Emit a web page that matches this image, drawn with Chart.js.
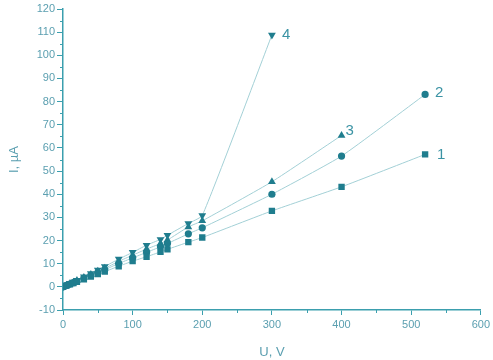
<!DOCTYPE html>
<html>
<head>
<meta charset="utf-8">
<script src="https://cdn.jsdelivr.net/npm/chart.js@4"></script>
<style>
  html, body { margin: 0; padding: 0; background: #fff; }
  #wrap { width: 493px; height: 360px; }
</style>
</head>
<body>
<div id="wrap"><canvas id="chart"></canvas></div>
<script>
// voltage, V
const voltage = [0, 5, 10, 15, 20, 30, 40, 50, 60, 80, 100, 120, 140, 150, 180, 200, 300, 400, 520];
// current, uA (curves 1..4)
const curve1 = [0, 0.55, 1.1, 1.6, 2.2, 3.3, 4.4, 5.5, 6.6, 8.9, 11.1, 13, 15.1, 16.2, 19.3, 21.3, 32.8, 43.2, 57.2];
const curve2 = [0, 0.6, 1.2, 1.8, 2.4, 3.7, 4.9, 6.2, 7.4, 10.1, 12.5, 14.9, 17.3, 18.7, 22.9, 25.5, 40, 56.5, 83.1];
const curve3 = [0, 0.65, 1.3, 2, 2.7, 4, 5.3, 6.7, 8, 11, 13.7, 16.3, 18.7, 20.2, 25.9, 28.5, 45.4, 65.4];
const curve4 = [0, 0.7, 1.4, 2.1, 2.9, 4.4, 5.8, 7.3, 8.8, 12, 14.9, 18, 20.5, 22.3, 27.4, 30.8, 108.8];
const curveLabels = ['1', '2', '3', '4'];

const yTicks = [-10, 0, 10, 20, 30, 40, 50, 60, 70, 80, 90, 100, 110, 120];
const xTicks = [0, 100, 200, 300, 400, 500, 600];

const markColor = '#1f7d8e';
const lineColor = '#a3d0d6';
const axisColor = '#3b9fae';
const textColor = '#5b9fb0';
const fontFamily = 'Arial, "Liberation Sans", sans-serif';

function pts(ys) {
    return ys.map((y, i) => ({ x: voltage[i], y: y }));
}

// short minor ticks halfway between the labelled ones
const minorTicks = {
    id: 'minorTicks',
    afterDraw(chart) {
        const ctx = chart.ctx;
        const xs = chart.scales.x;
        const ys = chart.scales.y;
        ctx.save();
        ctx.strokeStyle = axisColor;
        ctx.lineWidth = 1;
        for (let v = 50; v < 600; v += 100) {
            const px = Math.round(xs.getPixelForValue(v)) + 0.5;
            ctx.beginPath();
            ctx.moveTo(px, xs.top);
            ctx.lineTo(px, xs.top + 3);
            ctx.stroke();
        }
        for (let v = -5; v < 120; v += 10) {
            const py = Math.round(ys.getPixelForValue(v)) + 0.5;
            ctx.beginPath();
            ctx.moveTo(ys.right, py);
            ctx.lineTo(ys.right - 3, py);
            ctx.stroke();
        }
        ctx.restore();
    }
};

// curve numbers next to the last point of each curve
const curveNumbers = {
    id: 'curveNumbers',
    afterDatasetsDraw(chart) {
        const ctx = chart.ctx;
        const offsets = [[12, 0], [10, -2], [4, -5], [10, 0]];
        ctx.save();
        ctx.fillStyle = '#3b93a4';
        ctx.font = '15px ' + fontFamily;
        ctx.textBaseline = 'middle';
        chart.data.datasets.forEach((ds, i) => {
            const last = ds.data[ds.data.length - 1];
            const px = chart.scales.x.getPixelForValue(last.x);
            const py = chart.scales.y.getPixelForValue(last.y);
            ctx.fillText(curveLabels[i], px + offsets[i][0], py + offsets[i][1]);
        });
        ctx.restore();
    }
};

const common = {
    showLine: true,
    borderColor: lineColor,
    borderWidth: 1,
    backgroundColor: markColor,
    pointBorderColor: markColor,
    pointBorderWidth: 0,
    tension: 0.15
};

new Chart(document.getElementById('chart'), {
    type: 'scatter',
    data: {
        datasets: [
            Object.assign({ label: '1', data: pts(curve1), pointStyle: 'rect', pointRadius: 4.5 }, common),
            Object.assign({ label: '2', data: pts(curve2), pointStyle: 'circle', pointRadius: 3.6 }, common),
            Object.assign({ label: '3', data: pts(curve3), pointStyle: 'triangle', pointRadius: 4.5 }, common),
            Object.assign({ label: '4', data: pts(curve4), pointStyle: 'triangle', pointRotation: 180, pointRadius: 4.5 }, common)
        ]
    },
    options: {
        responsive: true,
        maintainAspectRatio: false,
        animation: false,
        layout: { padding: { top: 9, right: 10, left: 0, bottom: 0 } },
        plugins: {
            legend: { display: false },
            tooltip: { enabled: false }
        },
        scales: {
            x: {
                type: 'linear',
                min: 0,
                max: 600,
                afterBuildTicks: s => { s.ticks = xTicks.map(v => ({ value: v })); },
                afterFit: s => { s.height = 50; },
                border: { color: axisColor, width: 1.5 },
                grid: { drawOnChartArea: false, drawTicks: true, tickLength: 5, tickColor: axisColor },
                ticks: { color: textColor, font: { size: 11, family: fontFamily }, padding: 3, maxRotation: 0 },
                title: { display: true, text: 'U, V', color: textColor, font: { size: 13, family: fontFamily }, padding: { top: 3, bottom: 0 } }
            },
            y: {
                type: 'linear',
                min: -10,
                max: 120,
                afterBuildTicks: s => { s.ticks = yTicks.map(v => ({ value: v })); },
                afterFit: s => { s.width = 63; },
                border: { color: axisColor, width: 1.5 },
                grid: { drawOnChartArea: false, drawTicks: true, tickLength: 6, tickColor: axisColor },
                ticks: { color: textColor, font: { size: 11, family: fontFamily }, padding: 2 },
                title: { display: true, text: 'I, µA', color: textColor, font: { size: 13, family: fontFamily }, padding: { top: 7, bottom: 0 } }
            }
        }
    },
    plugins: [minorTicks, curveNumbers]
});
</script>
</body>
</html>
